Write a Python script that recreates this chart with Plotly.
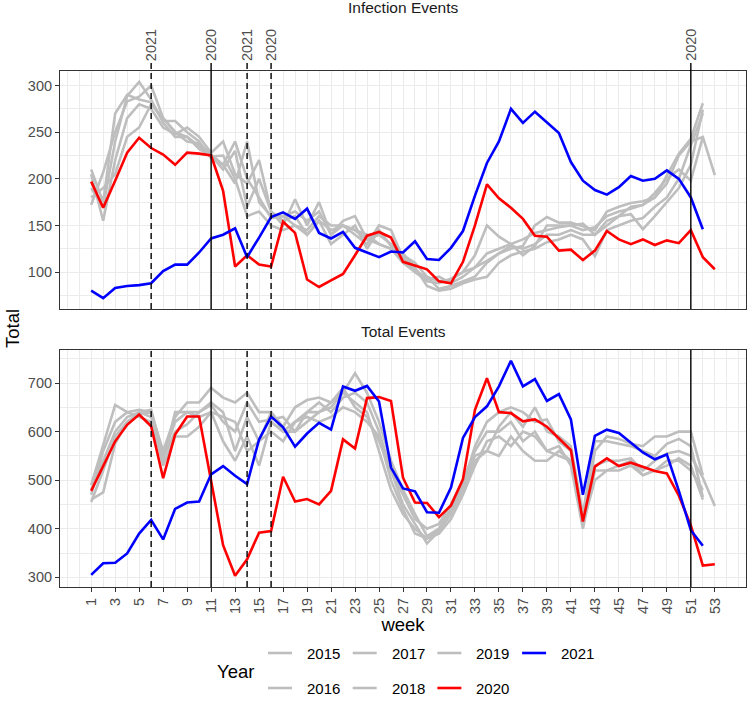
import plotly.graph_objects as go

WEEKS = list(range(1, 54))
YEARS = [2015, 2016, 2017, 2018, 2019, 2020, 2021]

# weekly infection events
infection_2015 = [172, 207, 250, 283, 288, 300, 265, 250, 240, 238, 226, 215, 240, 200, 180, 158, 160, 150, 145, 160,
                  150, 150, 140, 130, 150, 145, 115, 100, 95, 90, 92, 100, 118, 150, 138, 130, 118, 128, 150, 150,
                  150, 145, 148, 160, 165, 168, 172, 180, 195, 225, 240, 245, 204]
infection_2016 = [205, 155, 220, 265, 280, 275, 255, 248, 255, 245, 228, 240, 205, 195, 220, 165, 150, 178, 150, 175,
                  140, 155, 160, 135, 130, 125, 110, 100, 90, 88, 93, 100, 105, 112, 120, 125, 128, 150, 159, 153,
                  153, 149, 145, 165, 170, 174, 176, 180, 204, 227, 243, 281]
infection_2017 = [190, 170, 240, 289, 304, 285, 260, 245, 245, 235, 225, 210, 230, 170, 200, 165, 155, 160, 140, 155,
                  145, 150, 145, 140, 130, 125, 118, 110, 95, 82, 85, 90, 95, 110, 120, 128, 125, 130, 140, 140,
                  145, 140, 140, 150, 160, 162, 146, 160, 175, 190, 215, 274]
infection_2018 = [210, 175, 270, 290, 285, 282, 262, 262, 250, 240, 222, 215, 195, 240, 175, 160, 160, 165, 155, 165,
                  140, 150, 145, 135, 140, 130, 120, 105, 85, 80, 82, 88, 92, 95, 110, 118, 122, 125, 132, 135,
                  140, 135, 117, 145, 150, 155, 158, 170, 180, 200, 236, 270]
infection_2019 = [180, 190, 205, 245, 255, 280, 265, 250, 245, 232, 224, 225, 200, 160, 165, 150, 145, 150, 140, 155,
                  130, 140, 150, 125, 145, 128, 115, 103, 92, 95, 88, 95, 105, 120, 125, 130, 135, 142, 145, 148,
                  150, 152, 140, 155, 160, 170, 172, 185, 200, 210, 198, 245]
infection_2020 = [197, 169, 198, 228, 244, 233, 226, 215, 228, 227, 225, 187, 106, 118, 108, 106, 154, 142, 92, 84,
                  91, 98, 118, 139, 143, 137, 111, 107, 103, 90, 88, 111, 150, 194, 179, 169, 157, 139, 138, 123,
                  124, 113, 123, 144, 135, 130, 135, 129, 134, 131, 145, 116, 103]
infection_2021 = [80, 72, 83, 85, 86, 88, 101, 108, 108, 121, 136, 140, 147, 116, 137, 159, 164, 157, 168, 142,
                  136, 143, 126, 121, 116, 122, 121, 133, 114, 113, 126, 144, 182, 217, 240, 275, 260, 272, 260, 249,
                  218, 198, 188, 183, 191, 203, 198, 200, 209, 200, 180, 146]

# weekly total events
total_2015 = [460, 475, 575, 620, 635, 640, 545, 600, 615, 640, 660, 640, 560, 630, 580, 640, 600, 620, 640, 640,
              660, 690, 650, 630, 580, 520, 470, 420, 400, 410, 450, 500, 560, 600, 600, 620, 580, 600, 560, 550,
              540, 420, 530, 540, 540, 545, 520, 540, 555, 560, 550, 505, 447]
total_2016 = [470, 560, 620, 640, 645, 640, 560, 630, 660, 660, 690, 670, 660, 680, 640, 640, 610, 650, 665, 670,
              660, 680, 720, 680, 620, 540, 480, 430, 385, 400, 440, 490, 570, 620, 640, 650, 640, 620, 625, 580,
              560, 410, 560, 590, 585, 575, 570, 590, 590, 600, 600, 510]
total_2017 = [480, 540, 600, 630, 640, 645, 550, 620, 640, 640, 655, 620, 600, 660, 620, 625, 630, 600, 640, 660,
              640, 670, 680, 660, 600, 520, 450, 410, 370, 395, 430, 480, 540, 560, 610, 640, 610, 650, 600, 590,
              570, 430, 580, 580, 575, 570, 560, 550, 575, 585, 570, 465]
total_2018 = [490, 570, 655, 640, 630, 620, 540, 640, 640, 630, 640, 580, 540, 590, 530, 620, 600, 600, 620, 640,
              650, 680, 660, 640, 560, 480, 430, 400, 380, 390, 420, 470, 530, 580, 590, 570, 600, 590, 560, 570,
              530, 400, 520, 520, 530, 540, 510, 520, 540, 540, 520, 480]
total_2019 = [455, 520, 590, 620, 640, 630, 530, 590, 590, 610, 640, 630, 620, 560, 580, 600, 580, 620, 630, 620,
              630, 650, 640, 620, 590, 500, 440, 390, 380, 400, 440, 490, 550, 560, 550, 590, 560, 540, 540, 560,
              540, 410, 500, 520, 520, 530, 510, 520, 530, 545, 530, 460]
total_2020 = [478, 528, 580, 614, 635, 611, 504, 594, 631, 631, 502, 366, 303, 337, 392, 395, 507, 456, 461, 450,
              478, 584, 565, 669, 671, 663, 505, 454, 453, 424, 448, 502, 645, 710, 640, 638, 621, 625, 610, 587,
              562, 415, 528, 545, 529, 536, 528, 519, 514, 468, 407, 324, 327]
total_2021 = [305, 329, 330, 349, 390, 418, 378, 441, 454, 456, 512, 529, 509, 492, 584, 631, 609, 569, 596, 618,
              604, 693, 684, 694, 662, 526, 483, 477, 434, 433, 485, 587, 630, 652, 693, 746, 693, 708, 663, 677,
              625, 470, 591, 604, 597, 577, 557, 543, 553, 478, 397, 365]

# vertical reference weeks and their year labels
event_weeks = [6, 11, 14, 16, 51]
event_labels = ['2021', '2020', '2021', '2020', '2020']

INFECTION = dict(zip(YEARS, [infection_2015, infection_2016, infection_2017, infection_2018,
                             infection_2019, infection_2020, infection_2021]))
TOTAL = dict(zip(YEARS, [total_2015, total_2016, total_2017, total_2018,
                         total_2019, total_2020, total_2021]))

W, H = 749, 721
FONT = 'Liberation Sans, Arial, sans-serif'
YEAR_COLORS = {2020: '#FF0000', 2021: '#0000FF'}
GREY = '#BEBEBE'
GRID = '#EBEBEB'
TICK_SIZE = 14.5


def px(x):
    return x / W


def py(y):
    return 1 - y / H


def x_axis(show_labels):
    ax = dict(
        domain=[px(60), px(746)], range=[-1.6, 55.6],
        tickmode='array', tickvals=list(range(1, 54, 2)),
        showgrid=True, gridcolor=GRID, gridwidth=1.1,
        minor=dict(tickmode='linear', tick0=0, dtick=1, showgrid=True, gridcolor=GRID, gridwidth=0.6),
        showline=True, mirror=True, linecolor='#333333', linewidth=1.1,
        zeroline=False, fixedrange=True, automargin=False,
    )
    if show_labels:
        ax.update(ticks='outside', ticklen=4, tickcolor='#333333', tickwidth=1.1,
                  tickangle=-90, tickfont=dict(size=TICK_SIZE, color='#4D4D4D'),
                  title=dict(text='week', font=dict(size=18.5, color='black'), standoff=0))
    else:
        ax.update(showticklabels=False, ticks='')
    return ax


def y_axis(domain, rng, tickvals, minor_step, anchor):
    return dict(
        domain=domain, range=rng, anchor=anchor,
        tickmode='array', tickvals=tickvals,
        ticks='outside', ticklen=4, tickcolor='#333333', tickwidth=1.1,
        tickfont=dict(size=TICK_SIZE, color='#4D4D4D'),
        showgrid=True, gridcolor=GRID, gridwidth=1.1,
        minor=dict(tickmode='linear', tick0=0, dtick=minor_step, showgrid=True, gridcolor=GRID, gridwidth=0.6),
        showline=True, mirror=True, linecolor='#333333', linewidth=1.1,
        zeroline=False, fixedrange=True, automargin=False,
    )


fig = go.Figure()

# series: greys first, then 2020 and 2021 on top
for xa, ya, data in [('x', 'y', INFECTION), ('x2', 'y2', TOTAL)]:
    for year in YEARS:
        vals = data[year]
        fig.add_trace(go.Scatter(
            x=WEEKS[:len(vals)], y=vals, mode='lines', name=str(year),
            line=dict(color=YEAR_COLORS.get(year, GREY), width=2.6),
            xaxis=xa, yaxis=ya, showlegend=False, hoverinfo='skip'
        ))

shapes = []
annotations = []

# reference lines, solid for the 2020 start/end weeks, dashed otherwise
for wk, lab in zip(event_weeks, event_labels):
    dash = 'solid' if wk in (11, 51) else '6px,4px'
    for xa, y0, y1 in [('x', 309, 63), ('x2', 587, 350)]:
        shapes.append(dict(type='line', xref=xa, yref='paper', x0=wk, x1=wk,
                           y0=py(y0), y1=py(y1), layer='above',
                           line=dict(color='black', width=1.4, dash=dash)))
    annotations.append(dict(text=lab, xref='x', yref='paper', x=wk, y=py(63),
                            xanchor='center', yanchor='bottom', textangle=-90, showarrow=False,
                            font=dict(size=TICK_SIZE, color='#4D4D4D')))

# facet strip titles and shared y title
annotations += [
    dict(text='Infection Events', xref='paper', yref='paper', x=px(403), y=py(8),
         xanchor='center', yanchor='middle', showarrow=False, font=dict(size=15.5, color='#1A1A1A')),
    dict(text='Total Events', xref='paper', yref='paper', x=px(403), y=py(331),
         xanchor='center', yanchor='middle', showarrow=False, font=dict(size=15.5, color='#1A1A1A')),
    dict(text='Total', xref='paper', yref='paper', x=px(12), y=py(329),
         xanchor='center', yanchor='middle', textangle=-90, showarrow=False,
         font=dict(size=18.5, color='black')),
]

# legend drawn by hand: two rows, column-major like ggplot
annotations.append(dict(text='Year', xref='paper', yref='paper', x=px(215), y=py(671),
                        xanchor='left', yanchor='middle', showarrow=False,
                        font=dict(size=18.5, color='black')))
for i, year in enumerate(YEARS):
    col, row = divmod(i, 2)
    x0 = 268 + col * 84.7
    yc = 653 + row * 35
    shapes.append(dict(type='line', xref='paper', yref='paper', x0=px(x0), x1=px(x0 + 24),
                       y0=py(yc), y1=py(yc), line=dict(color=YEAR_COLORS.get(year, GREY), width=2.6)))
    annotations.append(dict(text=str(year), xref='paper', yref='paper', x=px(x0 + 37), y=py(yc),
                            xanchor='left', yanchor='middle', showarrow=False,
                            font=dict(size=15, color='black')))

fig.update_layout(
    width=W, height=H,
    margin=dict(l=0, r=0, t=0, b=0, autoexpand=False),
    paper_bgcolor='white', plot_bgcolor='white',
    font=dict(family=FONT),
    showlegend=False,
    xaxis=x_axis(False) | dict(anchor='y'),
    yaxis=y_axis([py(309), py(71)], [60.4, 315.6], [100, 150, 200, 250, 300], 25, 'x'),
    xaxis2=x_axis(True) | dict(anchor='y2', matches='x'),
    yaxis2=y_axis([py(587), py(350)], [280, 768], [300, 400, 500, 600, 700], 50, 'x2'),
    shapes=shapes,
    annotations=annotations,
)

# drop the default page margin so the figure sits at the window origin
fig.write_html("out.html", config={'displayModeBar': False},
               post_script="document.body.style.margin = '0';")
